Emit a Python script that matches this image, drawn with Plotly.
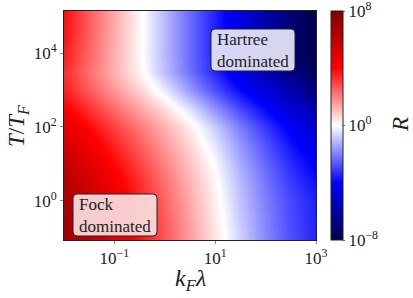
import plotly.graph_objects as go

# log10(k_F * lambda) grid
log_kl = [-2, -1.5, -1, -0.5, 0, 0.5, 1, 1.5, 2, 2.5, 3]
# log10(T/T_F) grid
log_t = [-1, -0.5, 0, 0.5, 1, 1.5, 2, 2.5, 3, 3.5, 4, 4.5, 5, 5.2]

# log10 R (rows follow log_t, columns follow log_kl)
log_r = [
    [7.04, 5.94, 4.84, 3.74, 2.64, 1.54, 0.44, -0.75, -1.89, -2.78, -3.45],
    [6.95, 5.85, 4.75, 3.65, 2.55, 1.45, 0.35, -0.85, -1.97, -2.84, -3.49],
    [6.71, 5.63, 4.56, 3.48, 2.41, 1.33, 0.26, -0.95, -2.05, -2.90, -3.53],
    [6.43, 5.38, 4.33, 3.28, 2.23, 1.18, 0.13, -1.10, -2.19, -3.09, -3.79],
    [5.94, 4.94, 3.94, 2.94, 1.94, 0.94, -0.08, -1.32, -2.41, -3.35, -4.14],
    [5.38, 4.43, 3.48, 2.53, 1.58, 0.63, -0.43, -1.65, -2.75, -3.75, -4.63],
    [4.79, 3.89, 2.99, 2.09, 1.19, 0.29, -0.85, -2.05, -3.17, -4.21, -5.16],
    [4.14, 3.24, 2.34, 1.44, 0.54, -0.50, -1.73, -2.88, -3.96, -4.98, -5.92],
    [3.52, 2.57, 1.62, 0.67, -0.38, -1.61, -2.79, -3.90, -4.95, -5.94, -6.87],
    [3.32, 2.27, 1.22, 0.17, -1.05, -2.26, -3.42, -4.60, -5.70, -6.80, -7.80],
    [3.57, 2.42, 1.27, 0.12, -1.13, -2.34, -3.51, -4.70, -5.90, -7.10, -8.10],
    [3.72, 2.52, 1.32, 0.12, -1.13, -2.34, -3.51, -4.70, -5.90, -7.10, -8.10],
    [3.80, 2.57, 1.35, 0.12, -1.13, -2.34, -3.51, -4.70, -5.90, -7.10, -8.10],
    [3.80, 2.57, 1.35, 0.12, -1.13, -2.34, -3.51, -4.70, -5.90, -7.10, -8.10],
]

x_ticks = [-1, 1, 3]
x_ticktext = ["10<sup>\u22121</sup>", "10<sup>1</sup>", "10<sup>3</sup>"]
y_ticks = [0, 2, 4]
y_ticktext = ["10<sup>0</sup>", "10<sup>2</sup>", "10<sup>4</sup>"]
cb_ticks = [-8, 0, 8]
cb_ticktext = ["10<sup>\u22128</sup>", "10<sup>0</sup>", "10<sup>8</sup>"]

FONT = "Liberation Serif"
TXT = "#222"

seismic_r = [
    [0.0, "rgb(0,0,77)"],
    [0.25, "rgb(0,0,255)"],
    [0.5, "rgb(255,255,255)"],
    [0.75, "rgb(255,0,0)"],
    [1.0, "rgb(128,0,0)"],
]

FW, FH = 413, 298
# plot area in pixels
L, R, T, B = 64, 316, 11, 240
W, H = float(R - L), float(B - T)


def px(xp):
    return (xp - L) / W


def py(yp):
    return 1 - (yp - T) / H


fig = go.Figure()
fig.add_trace(go.Heatmap(
    x=log_kl, y=log_t, z=log_r,
    zmin=-8, zmax=8, zsmooth="best",
    colorscale=seismic_r,
    colorbar=dict(
        x=px(331), xanchor="left", y=0.5, yanchor="middle",
        len=1.0, lenmode="fraction", thickness=12, thicknessmode="pixels",
        outlinewidth=1, outlinecolor=TXT, xpad=0, ypad=0,
        tickvals=cb_ticks, ticktext=cb_ticktext, ticklabeloverflow="allow",
        ticks="outside", ticklen=2, tickcolor="#666",
        tickfont=dict(family=FONT, size=17, color=TXT),
    ),
    hoverinfo="skip",
))


def rounded(xa, ya, xb, yb, r=4):
    return (f"M {px(xa+r)},{py(ya)} L {px(xb-r)},{py(ya)} Q {px(xb)},{py(ya)} {px(xb)},{py(ya+r)} "
            f"L {px(xb)},{py(yb-r)} Q {px(xb)},{py(yb)} {px(xb-r)},{py(yb)} L {px(xa+r)},{py(yb)} "
            f"Q {px(xa)},{py(yb)} {px(xa)},{py(yb-r)} L {px(xa)},{py(ya+r)} Q {px(xa)},{py(ya)} {px(xa+r)},{py(ya)} Z")


shapes = []
for (xa, ya, xb, yb, fill) in [(211, 29, 295, 71, "rgba(232,232,245,0.92)"),
                               (73, 194, 157, 236, "rgba(248,222,222,0.92)")]:
    shapes.append(dict(type="path", path=rounded(xa, ya, xb, yb),
                       xref="x domain", yref="y domain", fillcolor=fill,
                       line=dict(color=TXT, width=1), layer="above"))

annotations = [
    dict(x=px(215), y=py(50), xref="x domain", yref="y domain",
         xanchor="left", yanchor="middle", align="left", showarrow=False,
         text="Hartree<br>dominated",
         font=dict(family=FONT, size=17, color=TXT)),
    dict(x=px(77), y=py(215), xref="x domain", yref="y domain",
         xanchor="left", yanchor="middle", align="left", showarrow=False,
         text="Fock<br>dominated",
         font=dict(family=FONT, size=17, color=TXT)),
    # axis titles
    dict(x=px(190), y=py(280), xref="x domain", yref="y domain",
         xanchor="center", yanchor="middle", showarrow=False,
         text="<i>k</i><sub><i>F</i></sub><i>\u03bb</i>",
         font=dict(family=FONT, size=24, color=TXT)),
    dict(x=px(18), y=py(126), xref="x domain", yref="y domain",
         xanchor="center", yanchor="middle", showarrow=False, textangle=-90,
         text="<i>T</i>/<i>T</i><sub><i>F</i></sub>",
         font=dict(family=FONT, size=23, color=TXT)),
    # colorbar label
    dict(x=px(400), y=py(125), xref="x domain", yref="y domain",
         xanchor="center", yanchor="middle", showarrow=False, textangle=-90,
         text="<i>R</i>",
         font=dict(family=FONT, size=23, color=TXT)),
]

fig.update_layout(
    width=FW, height=FH,
    margin=dict(l=L, r=FW - R, t=T, b=FH - B, autoexpand=False),
    paper_bgcolor="white", plot_bgcolor="white",
    shapes=shapes, annotations=annotations,
    font=dict(family=FONT, color=TXT),
)
fig.update_xaxes(
    range=[-2, 3], tickvals=x_ticks, ticktext=x_ticktext,
    showline=True, linecolor=TXT, linewidth=1, mirror=True,
    ticks="outside", ticklen=3, tickcolor="#888", showgrid=False, zeroline=False,
    tickfont=dict(family=FONT, size=17, color=TXT), automargin=False,
)
fig.update_yaxes(
    range=[-1.06, 5.14], tickvals=y_ticks, ticktext=y_ticktext,
    showline=True, linecolor=TXT, linewidth=1, mirror=True,
    ticks="outside", ticklen=3, tickcolor="#888", showgrid=False, zeroline=False,
    tickfont=dict(family=FONT, size=17, color=TXT), automargin=False,
)

fig.write_html("out.html", config={"displayModeBar": False},
               post_script="document.body.style.margin='0px';document.body.style.overflow='hidden';")
